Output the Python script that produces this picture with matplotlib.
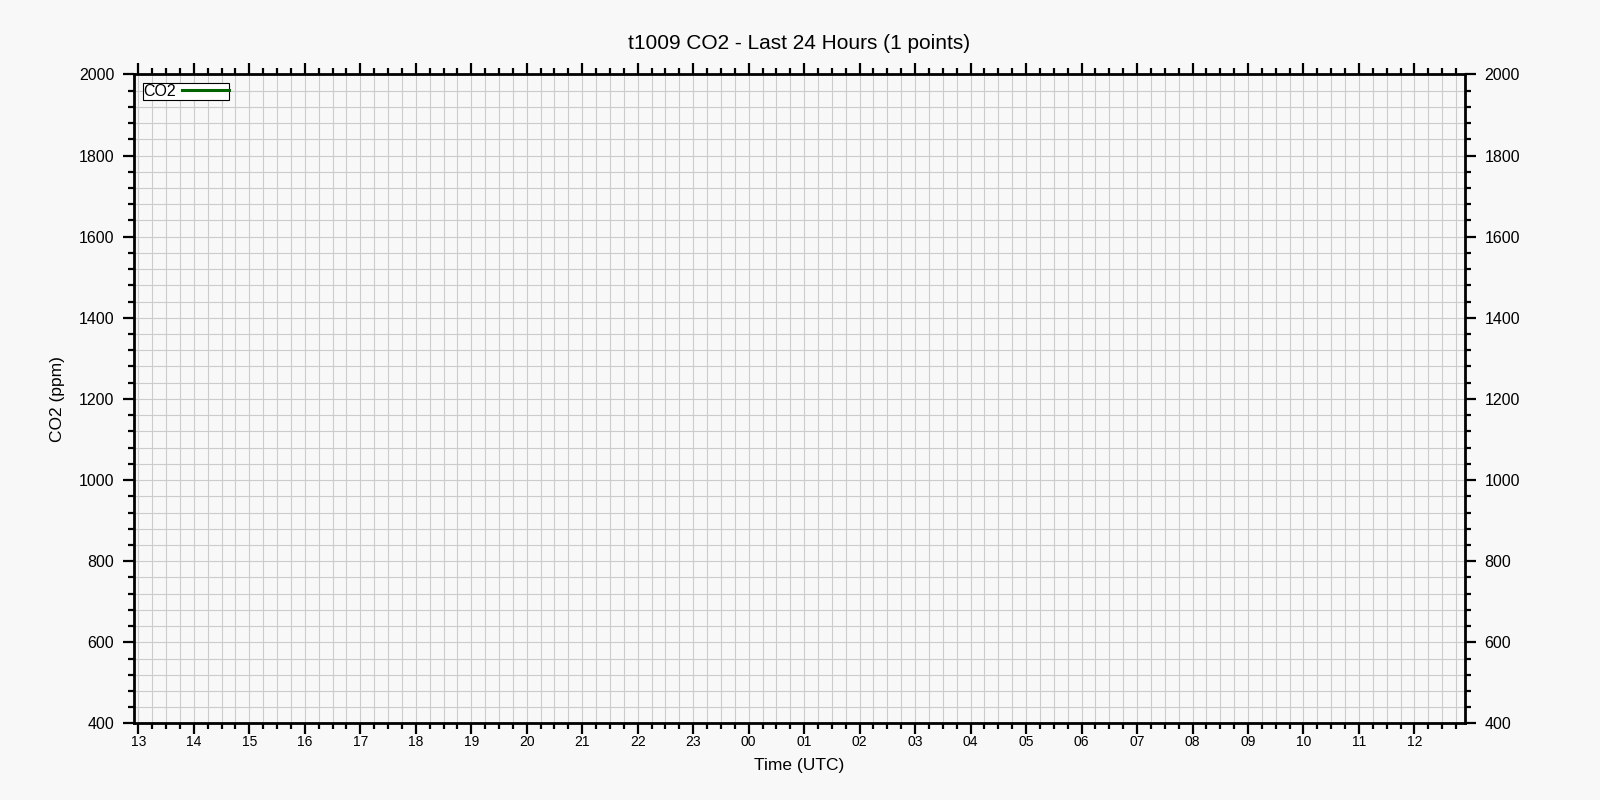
import datetime as dt
import matplotlib
matplotlib.use("Agg")
import matplotlib.pyplot as plt
import matplotlib.dates as mdates
from matplotlib.ticker import MultipleLocator

# data
title = "t1009 CO2 - Last 24 Hours (1 points)"
window_start = dt.datetime(2024, 1, 1, 12, 55)
window_end = dt.datetime(2024, 1, 2, 12, 55)
times = [dt.datetime(2024, 1, 2, 12, 50)]
co2 = [420.0]
y_range = [400, 2000]

plt.rcParams['font.family'] = ['Liberation Sans', 'DejaVu Sans']
bg = '#f8f8f8'

fig = plt.figure(figsize=(16, 8), dpi=100, facecolor=bg)
ax = fig.add_axes([0.0836, 0.0957, 0.8322, 0.8113])
ax.set_facecolor(bg)

ax.plot(times, co2, color='#006400', linewidth=2.2, label='CO2')

ax.set_xlim(window_start, window_end)
ax.set_ylim(*y_range)

ax.xaxis.set_major_locator(mdates.HourLocator())
ax.xaxis.set_major_formatter(mdates.DateFormatter('%H'))
ax.xaxis.set_minor_locator(mdates.MinuteLocator(byminute=[15, 30, 45]))
ax.yaxis.set_major_locator(MultipleLocator(200))
ax.yaxis.set_minor_locator(MultipleLocator(40))

ax.grid(which='both', color='#cccccc', linewidth=0.8)
ax.set_axisbelow(True)

for s in ax.spines.values():
    s.set_linewidth(2)
ax.tick_params(which='major', length=8, width=1.6, direction='out',
               top=True, right=True, labelright=True)
ax.tick_params(which='minor', length=4.5, width=1.6, direction='out',
               top=True, right=True)
ax.tick_params(axis='x', labelsize=10, pad=0.5)
ax.tick_params(axis='y', labelsize=11.5, pad=6)

ax.set_xlabel('Time (UTC)', fontsize=12.5, labelpad=6)
ax.set_ylabel('CO2 (ppm)', fontsize=12.5, labelpad=10)
ax.set_title(title, fontsize=15, pad=18)

leg = ax.legend(loc='upper left', markerfirst=False, fancybox=False,
                framealpha=1, edgecolor='black', fontsize=11.5,
                borderpad=0.05, handlelength=2.9, handletextpad=0.4,
                borderaxespad=0.55)
leg.get_frame().set_linewidth(0.8)

fig.savefig('out.png', dpi=100, facecolor=bg)
